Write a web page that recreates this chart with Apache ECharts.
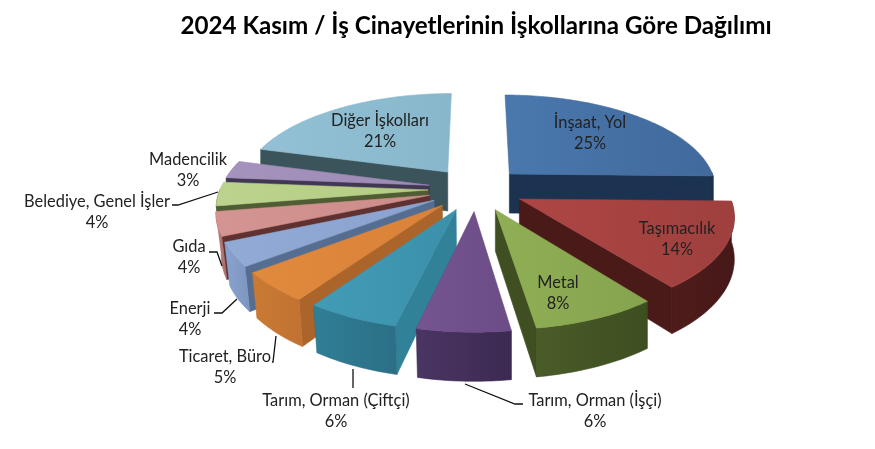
<!DOCTYPE html>
<html><head><meta charset="utf-8">
<style>html,body{margin:0;padding:0;background:#fff}#c{width:875px;height:449px}</style>
<script src="https://cdn.jsdelivr.net/npm/echarts@6/dist/echarts.min.js"></script>
</head><body><div id="c"></div>
<script>
const titleText = '2024 Kasım / İş Cinayetlerinin İşkollarına Göre Dağılımı';
const categories = ['İnşaat, Yol','Taşımacılık','Metal','Tarım, Orman (İşçi)','Tarım, Orman (Çiftçi)','Ticaret, Büro','Enerji','Gıda','Belediye, Genel İşler','Madencilik','Diğer İşkolları'];
const values = [25,14,8,6,6,5,4,4,4,3,21];

// look: [top-a, top-b, outer wall a, outer wall b, radial wall]
const looks = [
 ['#4a78ad','#41699c','#1b3250','#1a2e4a','#1b3250'],
 ['#ad4644','#9f403e','#4f1c1b','#451817','#4a1a19'],
 ['#8fae55','#86a44e','#4a5c28','#3d4e20','#3f4f21'],
 ['#75548f','#6c4c87','#4a3563','#3c2a52','#3f2d55'],
 ['#429cb6','#3b90aa','#2f7f96','#2b6f85','#318198'],
 ['#e08a3e','#d98238','#c97a33','#c27231','#ab652a'],
 ['#92abd6','#8aa2cd','#8aa3cf','#7d95bf','#566d92'],
 ['#d49492','#cc8c8a','#b87e7c','#a96f6d','#5f3130'],
 ['#bcd38d','#b4cc84','#4f5d35','#4f5d35','#4f5d35'],
 ['#a693bd','#9c8ab5','#423753','#423753','#423753'],
 ['#93c0d4','#88b7cc','#3c555d','#3a5159','#3b545c']
];
// label layout: [x, y of block centre, leader polyline or null]
const labelSpots = [
 [590,133,null],[677,239,null],[558,293,null],
 [595,411,[[465,384],[515,404],[523,404]]],
 [336,411,[[353,369],[353,388]]],
 [225,367,[[276,336],[273,362],[272,362]]],
 [190,319,[[237,299],[222,313],[214,313]]],
 [189,257,[[222,266],[217,252],[209,252]]],
 [97,212,[[218,192],[178,205],[172,205]]],
 [188,170,null],[380,131,null]
];
const view = {cx:476, cy:189, R:208, b:95, a:0.15, H:40, explode:0.23, rot:0.04};
const total = values.reduce((s,v)=>s+v,0);
const starts = []; values.reduce((s,v,i)=>{starts[i]=s;return s+v;},0);

// the picture's pie turns slightly more at the front than at the back
function warp(t){ return t + view.rot*(1-Math.cos(t))/2; }
function proj(u,v,z){
  const w = 1 - view.a*v;
  let X = view.cx + view.R*u/w;
  const Y = view.cy + view.b*v/w + view.H*z/w;
  if (z && X < view.cx && v > 0) X += (view.cx - X)*0.02;
  return [X,Y];
}
function sliceGeometry(i){
  const t0 = warp(starts[i]/total*2*Math.PI), t1 = warp((starts[i]+values[i])/total*2*Math.PI);
  const m = (t0+t1)/2, eu = view.explode*Math.sin(m), ev = -view.explode*Math.cos(m);
  const n = Math.max(4, Math.ceil((t1-t0)/0.02));
  const topArc=[], botArc=[], frontTop=[], frontBot=[];
  for(let k=0;k<=n;k++){
    const t = t0+(t1-t0)*k/n, u = Math.sin(t)+eu, v = -Math.cos(t)+ev;
    const T = proj(u,v,0), B = proj(u,v,1);
    topArc.push(T); botArc.push(B);
    if(-Math.cos(t) >= -0.02){ frontTop.push(T); frontBot.push(B); }
  }
  return {apexT:proj(eu,ev,0), apexB:proj(eu,ev,1), topArc, botArc, frontTop, frontBot, depth:-Math.cos(m),
    startFaces:-Math.sin(t0)>0.1, endFaces:Math.sin(t1)>0.1};
}
const ranks = values.map((_,i)=>sliceGeometry(i).depth);
const order = ranks.map((d,i)=>[d,i]).sort((p,q)=>p[0]-q[0]).map(p=>p[1]);

function grad(a,b){return {type:'linear',x:0,y:0,x2:1,y2:0,colorStops:[{offset:0,color:a},{offset:1,color:b}]};}
function renderSlice(params){
  const i = params.dataIndex, g = sliceGeometry(i), c = looks[i], base = order.indexOf(i)*5+1;
  const poly = (pts,fill,z,stroke)=>({type:'polygon',shape:{points:pts},style:{fill,stroke:stroke,lineWidth:0.6},z2:base+z});
  const last = g.topArc.length-1;
  const kids = [];
  if(g.startFaces) kids.push(poly([g.apexT,g.topArc[0],g.botArc[0],g.apexB],c[4],0,c[4]));
  if(g.endFaces) kids.push(poly([g.apexT,g.topArc[last],g.botArc[last],g.apexB],c[4],0,c[4]));
  if(g.frontTop.length>1) kids.push(poly(g.frontTop.concat(g.frontBot.slice().reverse()),grad(c[2],c[3]),1,c[3]));
  kids.push(poly([g.apexT].concat(g.topArc),grad(c[0],c[1]),2,c[1]));
  const s = labelSpots[i];
  if(s[2]) kids.push({type:'polyline',shape:{points:s[2]},style:{stroke:'#111',lineWidth:1.3,fill:null},z2:200});
  kids.push({type:'text',x:s[0],y:s[1],z2:210,style:{text:categories[i]+'\n'+values[i]+'%',fill:'#222',align:'center',verticalAlign:'middle',lineHeight:21,font:'16.4px Lato, "Open Sans", sans-serif'}});
  return {type:'group',children:kids};
}
const chart = echarts.init(document.getElementById('c'),null,{renderer:'canvas'});
chart.setOption({
  animation:false,
  backgroundColor:'#fff',
  title:{text:titleText,left:471,top:9,textAlign:'center',textStyle:{fontFamily:'Lato',fontWeight:'bold',fontSize:24.2,color:'#000'}},
  series:[{type:'custom',coordinateSystem:'none',silent:true,renderItem:renderSlice,
    data:values.map((v,i)=>({name:categories[i],value:v}))}]
});
</script></body></html>
